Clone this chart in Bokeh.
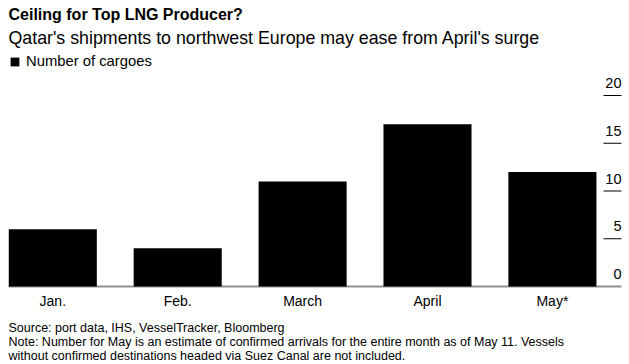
from bokeh.plotting import figure
from bokeh.models import Range1d, Legend, LegendItem
from bokeh.core.properties import value
from bokeh.embed import file_html
from bokeh.resources import INLINE

months = ["Jan.", "Feb.", "March", "April", "May*"]
cargoes = [6, 4, 11, 17, 12]
y_ticks = [0, 5, 10, 15, 20]

title = "Ceiling for Top LNG Producer?"
subtitle = "Qatar's shipments to northwest Europe may ease from April's surge"
legend_label = "Number of cargoes"
notes = [
    "Source: port data, IHS, VesselTracker, Bloomberg",
    "Note: Number for May is an estimate of confirmed arrivals for the entire month as of May 11. Vessels",
    "without confirmed destinations headed via Suez Canal are not included.",
]

FONT = "Liberation Sans"
W, H = 629, 364
PPU = 9.55          # pixels per y unit
ZERO_PX = 286       # pixel row of y=0
XPPU = 124.9        # pixels per category step
X_CENTER0 = 52.3    # pixel column of first category


def dx(px):
    return (px - X_CENTER0) / XPPU


def dy(py):
    return (ZERO_PX - py) / PPU


p = figure(width=W, height=H, x_range=Range1d(dx(0), dx(W)), y_range=Range1d(dy(H), dy(0)),
           output_backend="svg", toolbar_location=None,
           min_border_left=0, min_border_right=0, min_border_top=0, min_border_bottom=0)
p.outline_line_color = None
p.grid.visible = False
p.xaxis.visible = False
p.yaxis.visible = False
p.background_fill_color = "white"
p.border_fill_color = "white"

xs = list(range(len(months)))

# baseline and bars
p.segment(x0=[dx(8)], x1=[dx(621)], y0=[0], y1=[0], line_color="#8f8f8f", line_width=2)
bars = p.vbar(x=xs, top=cargoes, width=0.705, bottom=0, fill_color="black", line_color=None)

# right-side value axis, Bloomberg style (labels sit above short tick lines)
tk = y_ticks[1:]
p.segment(x0=[dx(603)] * len(tk), x1=[dx(621)] * len(tk), y0=tk, y1=tk,
          line_color="black", line_width=1)
p.text(x=[dx(621)] * len(y_ticks), y=[t + 12.5 / PPU for t in y_ticks],
       text=[str(t) for t in y_ticks], text_align="right", text_baseline="alphabetic",
       text_font=value(FONT), text_font_size="14.5px", text_color="black")

# category labels
p.text(x=xs, y=[dy(300)] * len(xs), text=months, text_align="center",
       text_baseline="alphabetic", text_font=value(FONT), text_font_size="14px",
       text_color="black")

# titles
p.text(x=[dx(8)], y=[dy(13.5)], text=[title], text_baseline="alphabetic",
       text_font=value(FONT), text_font_size="16px", text_font_style="bold", text_color="black")
p.text(x=[dx(8)], y=[dy(37)], text=[subtitle], text_baseline="alphabetic",
       text_font=value(FONT), text_font_size="17.8px", text_color="black")

# footnotes
p.text(x=[dx(8)] * len(notes), y=[dy(b) for b in [327.5, 341.5, 355.5]], text=notes,
       text_baseline="alphabetic", text_font=value(FONT), text_font_size="12.5px",
       text_color="black")

leg = Legend(items=[LegendItem(label=legend_label, renderers=[bars])],
             location=(9, H - 69), orientation="horizontal",
             padding=0, margin=0, spacing=0, border_line_color=None,
             background_fill_alpha=0, glyph_width=11, glyph_height=11,
             label_standoff=6, label_height=16, label_text_font=FONT,
             label_text_font_size="14.8px", label_text_color="black")
p.add_layout(leg, "center")

open("out.html", "w").write(file_html(p, INLINE))
